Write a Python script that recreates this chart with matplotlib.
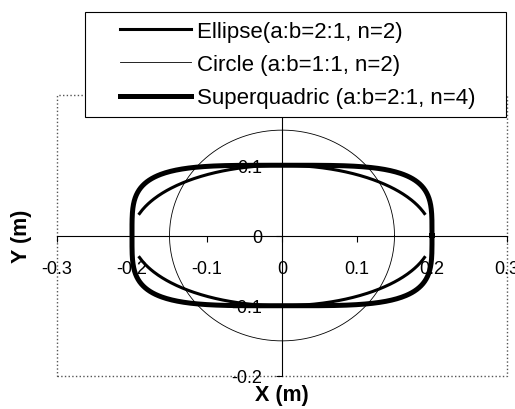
import numpy as np
import matplotlib
matplotlib.use('Agg')
import matplotlib.pyplot as plt
from matplotlib.patches import Rectangle

plt.rcParams['font.family'] = ['Liberation Sans', 'DejaVu Sans']

# shape parameters (semi-axes in m, exponent n)
ellipse_a, ellipse_b, ellipse_n = 0.2, 0.1, 2
circle_a, circle_b, circle_n = 0.15, 0.15, 2
squad_a, squad_b, squad_n = 0.2, 0.1, 4
ellipse_xmax = 0.19   # ellipse samples stop short of the vertices

labels = ['Ellipse(a:b=2:1, n=2)', 'Circle (a:b=1:1, n=2)', 'Superquadric (a:b=2:1, n=4)']
xticks = [-0.3, -0.2, -0.1, 0, 0.1, 0.2, 0.3]
yticks = [-0.2, -0.1, 0, 0.1]   # 0.2 sits under the legend box


def closed_curve(a, b, n, num=400):
  t = np.linspace(0, 2 * np.pi, num)
  c, s = np.cos(t), np.sin(t)
  x = a * np.sign(c) * np.abs(c) ** (2.0 / n)
  y = b * np.sign(s) * np.abs(s) ** (2.0 / n)
  return x, y


def open_curve(a, b, n, xmax, num=200):
  # upper and lower branches, not joined at the ends
  x = np.linspace(-xmax, xmax, num)
  y = b * (1 - np.abs(x / a) ** n) ** (1.0 / n)
  xs = np.concatenate([x, [np.nan], x])
  ys = np.concatenate([y, [np.nan], -y])
  return xs, ys


W, H = 515, 410
fig = plt.figure(figsize=(W / 100, H / 100), dpi=100)
ax = fig.add_axes([57 / W, 33 / H, 450 / W, 281 / H])

ex, ey = open_curve(ellipse_a, ellipse_b, ellipse_n, ellipse_xmax)
cx, cy = closed_curve(circle_a, circle_b, circle_n)
sx, sy = closed_curve(squad_a, squad_b, squad_n)

l2, = ax.plot(cx, cy, color='black', lw=0.6, label=labels[1])
l1, = ax.plot(ex, ey, color='black', lw=2.2, label=labels[0])
l3, = ax.plot(sx, sy, color='black', lw=3.6, label=labels[2])

ax.set_xlim(-0.3, 0.3)
ax.set_ylim(-0.2, 0.2)

# axes crossing at the origin
for side in ['top', 'right']:
  ax.spines[side].set_visible(False)
ax.spines['left'].set_position(('data', 0))
ax.spines['bottom'].set_position(('data', 0))
ax.spines['left'].set_linewidth(0.8)
ax.spines['bottom'].set_linewidth(0.8)

ax.set_xticks(xticks)
ax.set_xticklabels(['%g' % v for v in xticks])
ax.set_yticks(yticks)
ax.set_yticklabels(['%g' % v for v in yticks])
ax.tick_params(axis='x', direction='out', length=4, width=0.8, pad=14, labelsize=13)
ax.tick_params(axis='y', direction='out', length=4, width=0.8, pad=10, labelsize=13)

# dotted plot-area border
ax.add_patch(Rectangle((0, 0), 1, 1, transform=ax.transAxes, fill=False,
                       ec='#555555', lw=1.0, ls=':', clip_on=False, zorder=0))

fig.text(282 / W, 1 - 396 / H, 'X (m)', ha='center', va='center',
         fontsize=15.5, fontweight='bold')
fig.text(22 / W, 1 - 236 / H, 'Y (m)', ha='center', va='center',
         fontsize=15.5, fontweight='bold', rotation=90)

# legend box drawn separately so its padding can be set freely
fig.patches.append(Rectangle((85 / W, 1 - 118 / H), 421 / W, 105 / H,
                             transform=fig.transFigure, fc='white', ec='black',
                             lw=0.8, zorder=4))
fig.legend(handles=[l1, l2, l3], loc='upper left',
           bbox_to_anchor=(120 / W, 1 - 22 / H), fontsize=16, frameon=False,
           handlelength=3.2, handletextpad=0.25, labelspacing=0.55,
           borderpad=0, borderaxespad=0)

fig.savefig('out.png', dpi=100)
